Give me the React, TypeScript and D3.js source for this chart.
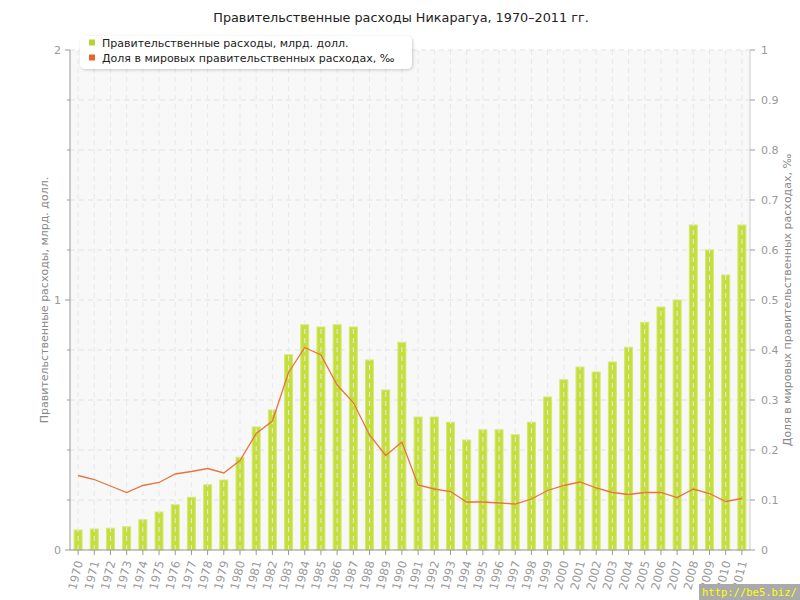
import React from "react";
import * as d3 from "d3";

const years = d3.range(1970, 2012).map(String);
const spending = [0.08, 0.084, 0.087, 0.093, 0.121, 0.152, 0.181, 0.211, 0.261, 0.28, 0.371, 0.492, 0.56, 0.781, 0.901, 0.892, 0.901, 0.892, 0.76, 0.64, 0.831, 0.532, 0.532, 0.511, 0.44, 0.481, 0.481, 0.461, 0.511, 0.612, 0.681, 0.732, 0.712, 0.752, 0.811, 0.911, 0.972, 1.0, 1.3, 1.2, 1.1, 1.3];
const share = [0.149, 0.141, 0.128, 0.115, 0.129, 0.135, 0.152, 0.157, 0.163, 0.154, 0.179, 0.233, 0.258, 0.355, 0.405, 0.39, 0.33, 0.295, 0.23, 0.189, 0.216, 0.13, 0.122, 0.117, 0.096, 0.096, 0.094, 0.092, 0.102, 0.119, 0.129, 0.136, 0.124, 0.115, 0.111, 0.115, 0.115, 0.105, 0.122, 0.113, 0.097, 0.103];
const leftTicks = [0, 0.2, 0.4, 0.6, 0.8, 1, 1.2, 1.4, 1.6, 1.8, 2];
const leftLabels = [0, 1, 2];
const rightTicks = [0, 0.1, 0.2, 0.3, 0.4, 0.5, 0.6, 0.7, 0.8, 0.9, 1];

const title = "Правительственные расходы Никарагуа, 1970–2011 гг.";
const leftTitle = "Правительственные расходы, млрд. долл.";
const rightTitle = "Доля в мировых правительственных расходах, ‰";
const legendItems = ["Правительственные расходы, млрд. долл.", "Доля в мировых правительственных расходах, ‰"];
const watermark = "http://be5.biz/";

export default function App() {
  const W = 800, H = 600;
  const L = 70, R = 750, T = 50, B = 550;
  const x = d3.scaleBand().domain(years).range([L, R]);
  const yL = d3.scaleLinear().domain([0, 2]).range([B, T]);
  const yR = d3.scaleLinear().domain([0, 1]).range([B, T]);
  const bw = 8;
  const cx = (i: number) => (x(years[i]) as number) + x.bandwidth() / 2;
  const line = d3.line<number>().x((_, i) => cx(i)).y((d) => yR(d));
  const font = "Verdana, 'DejaVu Sans', sans-serif";
  const axisCol = "#999";
  const fmt = d3.format("~g");

  return (
    <svg width={W} height={H} style={{ position: "absolute", left: 0, top: 0 }} fontFamily={font}>
      <defs>
        <filter id="sh" x="-10%" y="-30%" width="120%" height="160%">
          <feDropShadow dx="1" dy="1" stdDeviation="1.5" floodColor="#000" floodOpacity="0.2" />
        </filter>
      </defs>
      <rect width={W} height={H} fill="#fff" />
      <text x={401} y={22} textAnchor="middle" fontSize={12.8} fill="#222">{title}</text>
      <rect x={L} y={T} width={R - L} height={B - T} fill="#f8f8f8" />
      {rightTicks.map((t) => (
        <line key={"h" + t} x1={L} x2={R} y1={yR(t)} y2={yR(t)} stroke="#e2e2e2" strokeDasharray="5,4" />
      ))}
      {spending.map((v, i) => (
        <rect key={"b" + i} x={cx(i) - bw / 2} y={yL(v)} width={bw} height={B - yL(v)} fill="#c4df3c" stroke="#d4e97a" strokeWidth={1} />
      ))}
      {years.map((y, i) => (
        <line key={"v" + y} x1={cx(i)} x2={cx(i)} y1={T} y2={B} stroke="#e8e8e8" strokeDasharray="5,4" />
      ))}
      <path d={line(share) || ""} fill="none" stroke="#e8743f" strokeWidth={1.3} />
      {/* left axis */}
      <line x1={L} x2={L} y1={T} y2={B} stroke={axisCol} />
      {leftTicks.map((t) => (
        <line key={"lt" + t} x1={L - (leftLabels.includes(t) ? 5 : 3)} x2={L} y1={yL(t)} y2={yL(t)} stroke={axisCol} />
      ))}
      {leftLabels.map((t) => (
        <text key={"ll" + t} x={L - 9} y={yL(t) + 4} textAnchor="end" fontSize={11} fill={axisCol}>{t}</text>
      ))}
      <text transform={`translate(48,${(T + B) / 2}) rotate(-90)`} textAnchor="middle" fontSize={11} fill="#888">{leftTitle}</text>
      {/* right axis */}
      <line x1={R} x2={R} y1={T} y2={B} stroke="#ccc" />
      {rightTicks.map((t) => (
        <g key={"rt" + t}>
          <line x1={R} x2={R + 5} y1={yR(t)} y2={yR(t)} stroke={axisCol} />
          <text x={R + 11} y={yR(t) + 4} fontSize={11} fill={axisCol}>{fmt(t)}</text>
        </g>
      ))}
      <text transform={`translate(791,${(T + B) / 2}) rotate(-90)`} textAnchor="middle" fontSize={11} fill="#888">{rightTitle}</text>
      {/* bottom axis */}
      <line x1={L} x2={R} y1={B} y2={B} stroke={axisCol} />
      {years.map((y, i) => (
        <g key={"xt" + y}>
          <line x1={cx(i)} x2={cx(i)} y1={B} y2={B + 5} stroke={axisCol} />
          <text transform={`translate(${cx(i) + 5},${B + 12}) rotate(-76)`} textAnchor="end" fontSize={11.5} fill={axisCol}>{y}</text>
        </g>
      ))}
      {/* legend */}
      <rect x={80} y={36} width={332} height={33} rx={5} fill="#fff" filter="url(#sh)" />
      {legendItems.map((s, i) => (
        <g key={"lg" + i}>
          <rect x={89} y={39.5 + i * 15} width={6} height={6} fill={i === 0 ? "#b5d334" : "#e8642c"} />
          <text x={102} y={47 + i * 15} fontSize={11} fill="#222">{s}</text>
        </g>
      ))}
      {/* watermark */}
      <rect x={699} y={584} width={101} height={16} fill="#aaa" />
      <text x={702} y={595.5} fontSize={10.5} fill="#ff0" fontFamily="'DejaVu Sans Mono', monospace">{watermark}</text>
    </svg>
  );
}
